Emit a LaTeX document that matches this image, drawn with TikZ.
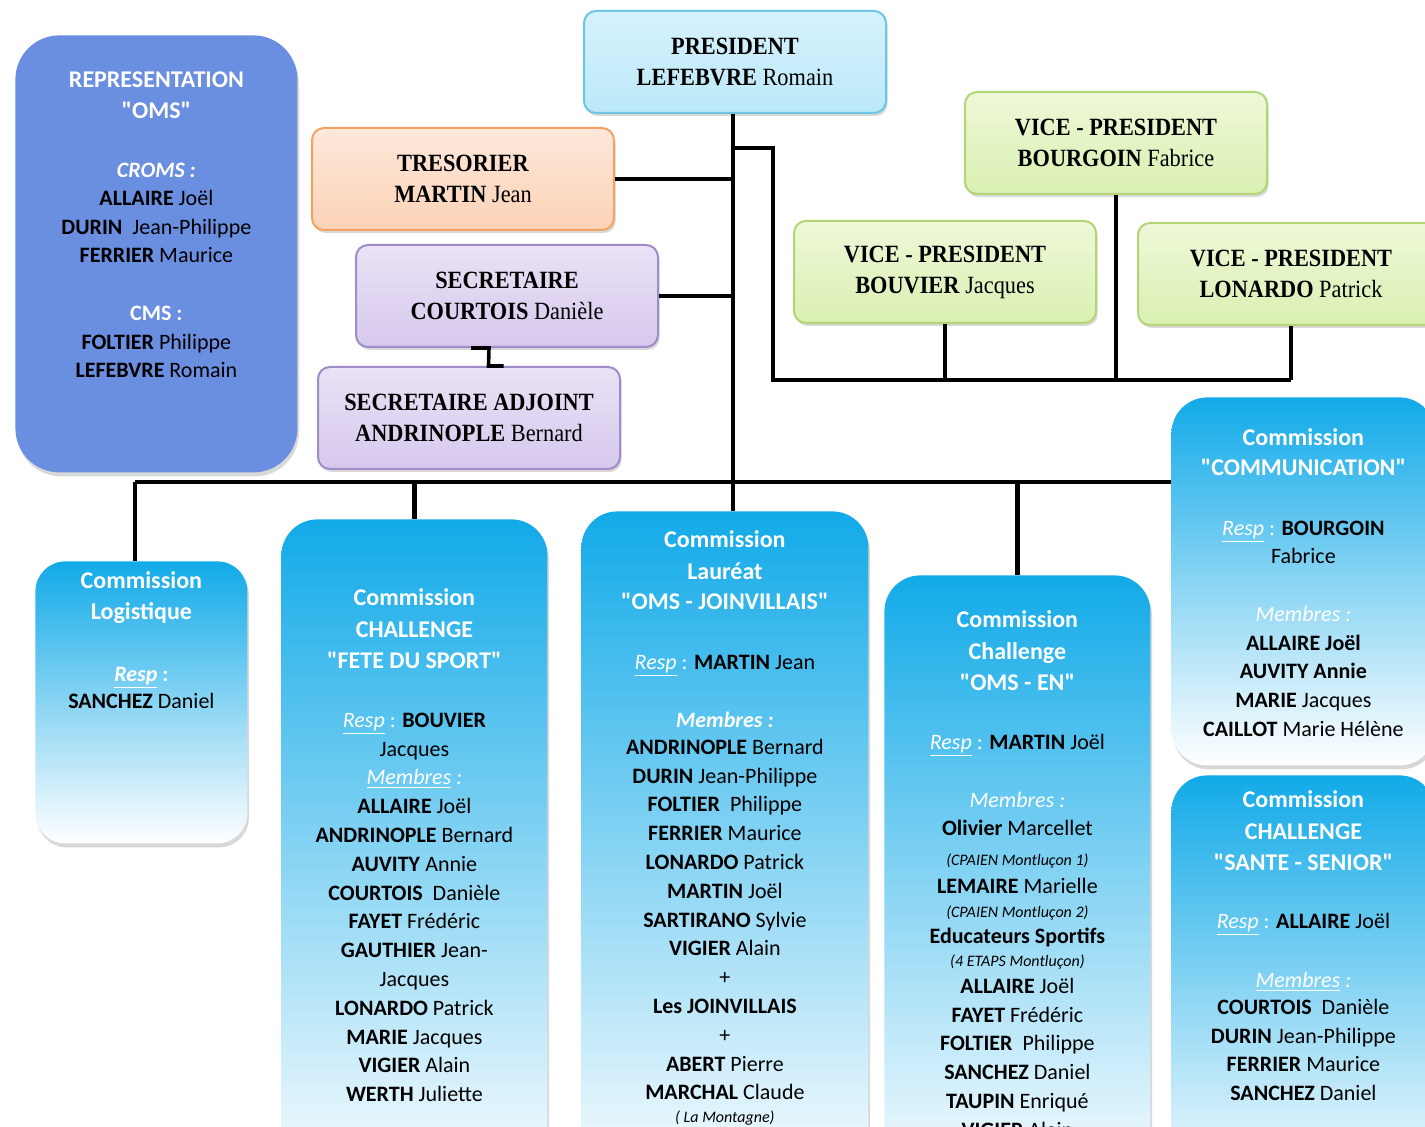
\documentclass[tikz,border=0pt]{standalone}
\usepackage{fontspec}
\setmainfont{Carlito}
\newfontfamily\boxfont[FakeStretch=0.9]{Liberation Serif}
\usetikzlibrary{positioning,calc,shadows}
\definecolor{repblue}{RGB}{106,142,224}
\definecolor{comcyan}{RGB}{18,170,232}
\definecolor{presA}{RGB}{214,242,252}
\definecolor{presB}{RGB}{188,232,248}
\definecolor{presline}{RGB}{110,196,230}
\definecolor{tresA}{RGB}{253,232,218}
\definecolor{tresB}{RGB}{251,210,182}
\definecolor{tresline}{RGB}{244,162,100}
\definecolor{secA}{RGB}{234,226,246}
\definecolor{secB}{RGB}{214,200,236}
\definecolor{secline}{RGB}{160,140,200}
\definecolor{vpA}{RGB}{238,248,216}
\definecolor{vpB}{RGB}{218,240,178}
\definecolor{vpline}{RGB}{178,214,118}
\newcommand{\resp}{\underline{\textit{Resp}}}
\newcommand{\qq}[1]{\textquotedbl#1\textquotedbl}
\newcommand{\ttl}[1]{{\fontsize{12}{14.4}\selectfont\bfseries\color{white}#1}}
\tikzset{
  topbox/.style={draw, line width=1pt, rounded corners=6pt, minimum width=151pt, minimum height=51pt,
    inner sep=0pt, align=center, anchor=north west, font=\boxfont\fontsize{12.4}{15.5}\selectfont,
    drop shadow={shadow xshift=0.8pt, shadow yshift=-1.5pt, opacity=0.3}},
  pres/.style={topbox, draw=presline, top color=presA, bottom color=presB},
  treso/.style={topbox, draw=tresline, top color=tresA, bottom color=tresB},
  secr/.style={topbox, draw=secline, top color=secA, bottom color=secB},
  vice/.style={topbox, draw=vpline, top color=vpA, bottom color=vpB},
  combox/.style={rounded corners=18pt, top color=comcyan, bottom color=white, anchor=north west, inner sep=0pt,
    drop shadow={shadow xshift=0.8pt, shadow yshift=-2pt, opacity=0.3}},
  comtxt/.style={inner sep=0pt, align=flush center, text width=#1, font=\fontsize{11}{14.4}\selectfont},
  link/.style={line width=2.4pt}
}
\begin{document}
\begin{tikzpicture}[x=0.5pt, y=-0.5pt]
\useasboundingbox (0,0) rectangle (1425,1127);
\clip (0,0) rectangle (1425,1127);
\fill[white] (0,0) rectangle (1425,1127);

\node[fill=repblue, rounded corners=22pt, minimum width=141pt, minimum height=218.5pt, anchor=north west,
  drop shadow={shadow xshift=0.8pt, shadow yshift=-2pt, opacity=0.3}] (rep) at (15,35) {};
\node[comtxt=130pt, below=18pt of rep.north] (reptxt) {\ttl{REPRESENTATION}\\[1.1pt]
  \ttl{\qq{OMS}}\\[15.1pt]
  {\color{white}\bfseries\itshape CROMS :}\\
  \textbf{ALLAIRE} Joël\\
  \textbf{DURIN}\ \ Jean-Philippe\\[-0.4pt]
  \textbf{FERRIER} Maurice\\[14.6pt]
  {\color{white}\bfseries CMS :}\\
  \textbf{FOLTIER} Philippe\\[-0.4pt]
  \textbf{LEFEBVRE} Romain};

\node[pres] (P) at (583,10) {\textbf{PRESIDENT}\\\textbf{LEFEBVRE} Romain};
\node[treso] (T) at (311,127) {\textbf{TRESORIER}\\\textbf{MARTIN} Jean};
\node[secr] (S) at (355,244) {\textbf{SECRETAIRE}\\\textbf{COURTOIS} Danièle};
\node[secr] (SA) at (317,366) {\textbf{SECRETAIRE ADJOINT}\\\textbf{ANDRINOPLE} Bernard};
\node[vice] (V1) at (964,91) {\textbf{VICE - PRESIDENT}\\\textbf{BOURGOIN} Fabrice};
\node[vice] (V2) at (793,220) {\textbf{VICE - PRESIDENT}\\\textbf{BOUVIER} Jacques};
\node[vice, minimum width=153pt] (V3) at (1137,222) {\textbf{VICE - PRESIDENT}\\\textbf{LONARDO} Patrick};

\node[combox, rounded corners=15pt, minimum width=106pt, minimum height=141pt] (logi) at (35,561) {};
\node[combox, minimum width=133pt, minimum height=340pt] (fete) at (281,519) {};
\node[combox, minimum width=143.5pt, minimum height=345pt] (join) at (581,511) {};
\node[combox, minimum width=133pt, minimum height=313pt] (omsen) at (884,575) {};
\node[combox, minimum width=132pt, minimum height=184pt] (comm) at (1171,397) {};
\node[combox, minimum width=132pt, minimum height=213pt] (sante) at (1171,775) {};

\node[comtxt=96pt, below=5pt of logi.north] (logitxt) {\ttl{Commission}\\[1.1pt]
  \ttl{Logistique}\\[16.6pt]
  {\color{white}\bfseries\resp\ :}\\[-0.9pt]
  \textbf{SANCHEZ} Daniel};
\node[comtxt=123pt, below=34.5pt of fete.north] (fetetxt) {\ttl{Commission}\\[1.6pt]
  \ttl{CHALLENGE}\\[1.1pt]
  \ttl{\qq{FETE DU SPORT}}\\[15.1pt]
  {\color{white}\resp\ :} \textbf{BOUVIER}\\
  Jacques\\
  {\color{white}\underline{\textit{Membres}}\textit{ :}}\\
  \textbf{ALLAIRE} Joël\\
  \textbf{ANDRINOPLE} Bernard\\
  \textbf{AUVITY} Annie\\
  \textbf{COURTOIS}\ \ Danièle\\
  \textbf{FAYET} Frédéric\\
  \textbf{GAUTHIER} Jean-\\
  Jacques\\
  \textbf{LONARDO} Patrick\\
  \textbf{MARIE} Jacques\\
  \textbf{VIGIER} Alain\\
  \textbf{WERTH} Juliette};
\node[comtxt=133pt, below=9.5pt of join.north] (jointxt) {\ttl{Commission}\\[1.6pt]
  \ttl{Lauréat}\\[0.6pt]
  \ttl{\qq{OMS - JOINVILLAIS}}\\[15.6pt]
  {\color{white}\resp\ :} \textbf{MARTIN} Jean\\[14.6pt]
  {\color{white}\bfseries\itshape Membres :}\\[-0.9pt]
  \textbf{ANDRINOPLE} Bernard\\
  \textbf{DURIN} Jean-Philippe\\
  \textbf{FOLTIER}\ \ Philippe\\
  \textbf{FERRIER} Maurice\\
  \textbf{LONARDO} Patrick\\
  \textbf{MARTIN} Joël\\
  \textbf{SARTIRANO} Sylvie\\
  \textbf{VIGIER} Alain\\
  +\\
  \textbf{Les JOINVILLAIS}\\
  +\\
  \textbf{ABERT} Pierre\\
  \textbf{MARCHAL} Claude\\[-2.9pt]
  {\fontsize{8}{9}\selectfont\itshape ( La Montagne)}};
\node[comtxt=123pt, below=17.5pt of omsen.north] (omsentxt) {\ttl{Commission}\\[1.6pt]
  \ttl{Challenge}\\[1.1pt]
  \ttl{\qq{OMS - EN}}\\[15.1pt]
  {\color{white}\resp\ :} \textbf{MARTIN} Joël\\[14.6pt]
  {\color{white}\itshape Membres :}\\[-0.4pt]
  \textbf{Olivier} Marcellet\\[0.6pt]
  {\fontsize{8}{9}\selectfont\itshape (CPAIEN Montluçon 1)}\\[-0.4pt]
  \textbf{LEMAIRE} Marielle\\[-2.4pt]
  {\fontsize{8}{9}\selectfont\itshape (CPAIEN Montluçon 2)}\\[-1.4pt]
  \textbf{Educateurs Sportifs}\\[-2.9pt]
  {\fontsize{8}{9}\selectfont\itshape (4 ETAPS Montluçon)}\\[-0.9pt]
  \textbf{ALLAIRE} Joël\\
  \textbf{FAYET} Frédéric\\
  \textbf{FOLTIER}\ \ Philippe\\
  \textbf{SANCHEZ} Daniel\\
  \textbf{TAUPIN} Enriqué\\
  \textbf{VIGIER} Alain};
\node[comtxt=122pt, below=15.5pt of comm.north] (commtxt) {\ttl{Commission}\\[0.6pt]
  \ttl{\qq{COMMUNICATION}}\\[15.6pt]
  {\color{white}\resp\ :} \textbf{BOURGOIN}\\[-0.4pt]
  Fabrice\\[14.6pt]
  {\color{white}\itshape Membres :}\\
  \textbf{ALLAIRE Joël}\\
  \textbf{AUVITY Annie}\\
  \textbf{MARIE} Jacques\\
  \textbf{CAILLOT} Marie Hélène};
\node[comtxt=122pt, below=7.5pt of sante.north] (santetxt) {\ttl{Commission}\\[1.6pt]
  \ttl{CHALLENGE}\\[1.1pt]
  \ttl{\qq{SANTE - SENIOR}}\\[14.6pt]
  {\color{white}\resp\ :} \textbf{ALLAIRE} Joël\\[15.1pt]
  {\color{white}\underline{\textit{Membres}}\textit{ :}}\\[-0.9pt]
  \textbf{COURTOIS}\ \ Danièle\\
  \textbf{DURIN} Jean-Philippe\\
  \textbf{FERRIER} Maurice\\
  \textbf{SANCHEZ} Daniel};

\coordinate (bus) at (135,482);
\coordinate (vpfork) at (733,148);
\coordinate (vpbus) at (773,380);

\draw[link] (P.south -| 733,0) -- (join.north -| 733,0);
\draw[link] (T.east) -- (T.east -| 733,0);
\draw[link] (S.east) -- (S.east -| 733,0);
\draw[link] (vpfork) -- (vpfork -| vpbus) -- (vpbus) -- (vpbus -| V3.south);
\draw[link] (V1.south) -- (V1.south |- vpbus);
\draw[link] (V2.south) -- (V2.south |- vpbus);
\draw[link] (V3.south) -- (V3.south |- vpbus);
\draw[link, line width=1.8pt] ($(S.south)+(-36,0)$) -- ($(S.south)+(-18,0)$) -- ($(SA.north)+(19.5,0)$) -- ($(SA.north)+(34.5,0)$);
\draw[link] (bus) -- (bus -| comm.west);
\draw[link] (bus) -- (bus |- logi.north);
\draw[link] (fete.north |- bus) -- (fete.north);
\draw[link] (omsen.north |- bus) -- (omsen.north);
\end{tikzpicture}
\end{document}
